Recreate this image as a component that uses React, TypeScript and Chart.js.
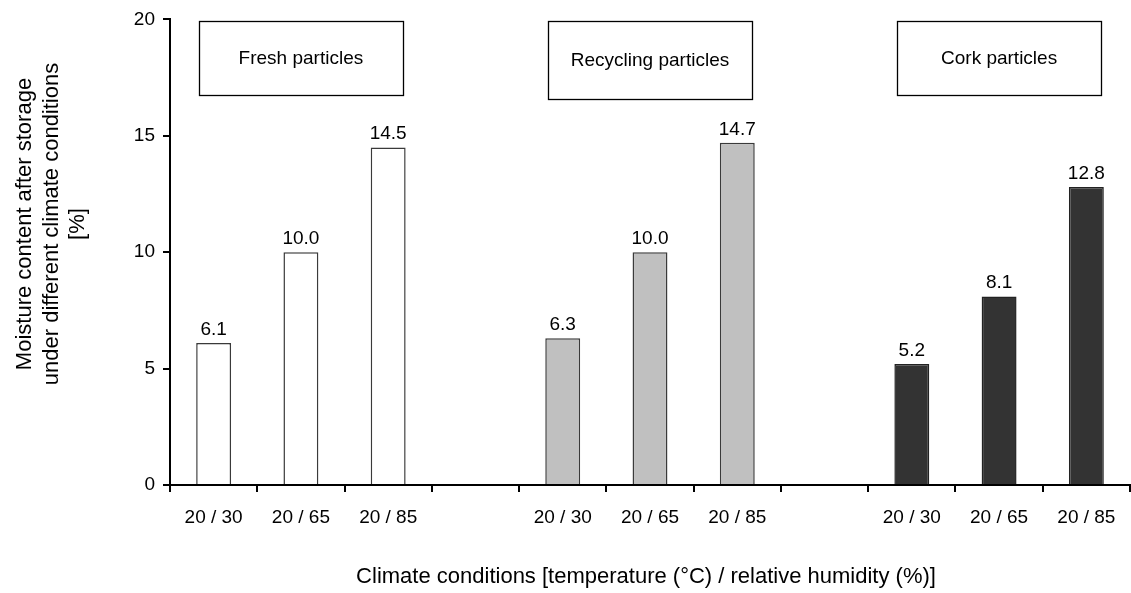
import React, { useEffect, useRef } from "react";
import { Chart, registerables } from "chart.js";

Chart.register(...registerables);

const categories = ["20 / 30", "20 / 65", "20 / 85", "", "20 / 30", "20 / 65", "20 / 85", "", "20 / 30", "20 / 65", "20 / 85"];
const freshValues = [6.1, 10.0, 14.5, null, null, null, null, null, null, null, null];
const recyclingValues = [null, null, null, null, 6.3, 10.0, 14.7, null, null, null, null];
const corkValues = [null, null, null, null, null, null, null, null, 5.2, 8.1, 12.8];
const groupNames = ["Fresh particles", "Recycling particles", "Cork particles"];
const groupCenters = [1, 5, 9];
const yTicks = [0, 5, 10, 15, 20];
const yTitleLines = ["Moisture content after storage", "under different climate conditions", "[%]"];
const xTitle = "Climate conditions [temperature (°C) / relative humidity (%)]";

const FONT = "'Liberation Sans', Arial, sans-serif";
const FS = 19;
const TITLE_FS = 22;

const overlayPlugin = {
  id: "overlay",
  afterDraw(chart: any) {
    const ctx = chart.ctx;
    const xs = chart.scales.x;
    const ys = chart.scales.y;
    ctx.save();
    ctx.fillStyle = "#000";
    ctx.font = `${FS}px ${FONT}`;
    // value labels
    chart.data.datasets.forEach((ds: any, di: number) => {
      const meta = chart.getDatasetMeta(di);
      meta.data.forEach((el: any, i: number) => {
        const v = ds.data[i];
        if (v == null) return;
        ctx.textAlign = "center";
        ctx.textBaseline = "alphabetic";
        ctx.fillText(v.toFixed(1), el.x, el.y - 8);
      });
    });
    // group boxes
    const catW = xs.getPixelForValue(1) - xs.getPixelForValue(0);
    groupNames.forEach((name, gi) => {
      const cx = xs.getPixelForValue(groupCenters[gi]);
      const halfW = catW * 1.17;
      const top = ys.getPixelForValue(19.93);
      const bottom = ys.getPixelForValue(gi === 1 ? 16.6 : 16.75);
      ctx.fillStyle = "#fff";
      ctx.fillRect(cx - halfW, top, halfW * 2, bottom - top);
      ctx.strokeStyle = "#000";
      ctx.lineWidth = 1.3;
      ctx.strokeRect(Math.round(cx - halfW) + 0.5, Math.round(top) + 0.5, Math.round(halfW * 2), Math.round(bottom - top));
      ctx.fillStyle = "#000";
      ctx.textAlign = "center";
      ctx.textBaseline = "middle";
      ctx.fillText(name, cx, (top + bottom) / 2 + 1);
    });
    // y title
    ctx.font = `${TITLE_FS}px ${FONT}`;
    ctx.save();
    ctx.translate(0, 224);
    ctx.rotate(-Math.PI / 2);
    ctx.textAlign = "center";
    ctx.textBaseline = "middle";
    const lineX = [25, 52, 78];
    yTitleLines.forEach((line, i) => {
      ctx.fillText(line, 0, lineX[i]);
    });
    ctx.restore();
    // x title
    ctx.textAlign = "center";
    ctx.textBaseline = "middle";
    ctx.fillText(xTitle, 646, 577);
    ctx.restore();
  },
};

export default function App() {
  const ref = useRef<HTMLCanvasElement>(null);
  useEffect(() => {
    const barCommon = {
      grouped: false,
      barPercentage: 0.4,
      categoryPercentage: 1,
      borderWidth: 1.5,
      borderSkipped: "bottom" as const,
    };
    const chart = new Chart(ref.current!, {
      type: "bar",
      data: {
        labels: categories,
        datasets: [
          { ...barCommon, label: "Fresh", data: freshValues, backgroundColor: "#ffffff", borderColor: "#3a3a3a" },
          { ...barCommon, label: "Recycling", data: recyclingValues, backgroundColor: "#c0c0c0", borderColor: "#3a3a3a" },
          { ...barCommon, label: "Cork", data: corkValues, backgroundColor: "#333333", borderColor: "#222222" },
        ],
      },
      options: {
        responsive: false,
        animation: false,
        layout: { padding: { top: 16, right: 1, left: 0, bottom: 0 } },
        plugins: { legend: { display: false }, tooltip: { enabled: false } },
        scales: {
          x: {
            offset: true,
            grid: { display: true, drawOnChartArea: false, drawTicks: true, tickLength: 7, offset: true, color: "#000", lineWidth: 2 },
            border: { display: true, color: "#000", width: 2 },
            ticks: { color: "#000", font: { family: FONT, size: FS }, padding: 14, maxRotation: 0, autoSkip: false },
            afterFit: (s: any) => { s.height = 108; },
          },
          y: {
            min: 0,
            max: 20,
            afterBuildTicks: (s: any) => { s.ticks = yTicks.map((v) => ({ value: v })); },
            grid: { display: true, drawOnChartArea: false, drawTicks: true, tickLength: 7, color: "#000", lineWidth: 2 },
            border: { display: true, color: "#000", width: 2 },
            ticks: { color: "#000", font: { family: FONT, size: FS }, padding: 8 },
            afterFit: (s: any) => { s.width = 170; },
          },
        },
      },
      plugins: [overlayPlugin],
    });
    return () => chart.destroy();
  }, []);
  return (
    <div style={{ position: "absolute", left: 0, top: 0, width: 1131, height: 593, background: "#fff" }}>
      <canvas ref={ref} width={1131} height={593} />
    </div>
  );
}
